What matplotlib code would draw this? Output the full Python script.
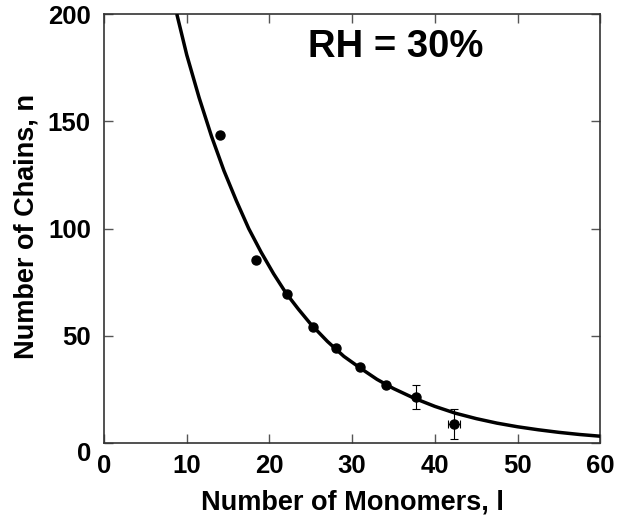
import numpy as np
import matplotlib
matplotlib.use("Agg")
import matplotlib.pyplot as plt
import matplotlib.transforms as mtransforms

plt.rcParams['font.family'] = ['Liberation Sans', 'DejaVu Sans']
plt.rcParams['font.weight'] = 'bold'

# Measured data (number of monomers l, number of chains n)
l_data = [14.0, 18.4, 22.1, 25.3, 28.1, 31.0, 34.1, 37.7, 42.3]
n_data = [143.5, 85.2, 69.5, 54.0, 44.6, 35.6, 27.0, 21.4, 9.0]
n_err = [0, 0, 0, 0, 0, 0, 0, 5.6, 6.8]
l_err = [0, 0, 0, 0, 0, 0, 0, 0, 0.7]

# Fitted curve
curve_l = [8.8, 10.0, 11.5, 13.0, 14.5, 16.0, 17.5, 19.0, 20.5, 22.0, 23.5, 25.0,
           27.0, 29.0, 31.0, 33.0, 35.0, 37.5, 40.0, 42.5, 45.0, 47.5, 50.0,
           52.5, 55.0, 57.5, 60.0]
curve_n = [200, 181, 161, 143, 127, 113, 100, 89, 79, 70, 62.5, 55.5,
           47.5, 40.5, 35.0, 29.8, 25.5, 21.0, 17.2, 14.0, 11.5, 9.4, 7.7,
           6.3, 5.1, 4.1, 3.3]

x_ticks = [0, 10, 20, 30, 40, 50, 60]
y_ticks = [0, 50, 100, 150, 200]

fig = plt.figure(figsize=(6.18, 5.16), dpi=100)
ax = fig.add_axes([104 / 618, 1 - 443.3 / 516, (600.3 - 104) / 618, (443.3 - 14) / 516])

ax.plot(curve_l, curve_n, color='black', lw=2.5, solid_capstyle='butt', zorder=3)

l_arr = np.array(l_data)
n_arr = np.array(n_data)
ne = np.array(n_err)
le = np.array(l_err)
mask = (ne > 0) | (le > 0)
ax.errorbar(l_arr[mask], n_arr[mask], yerr=ne[mask], xerr=le[mask], fmt='none',
            ecolor='black', elinewidth=0.8, capsize=2.6, capthick=0.8, zorder=4)
ax.plot(l_arr, n_arr, 'o', color='black', ms=6.5, zorder=5)

ax.set_xlim(0, 60)
ax.set_ylim(0, 200)
ax.set_xticks(x_ticks)
ax.set_yticks(y_ticks)
ax.set_xticklabels([str(v) for v in x_ticks])
ax.set_yticklabels([str(v) for v in y_ticks])

for sp in ax.spines.values():
    sp.set_color('#333333')
    sp.set_linewidth(1.2)

ax.tick_params(axis='both', which='major', direction='in', length=6.5, width=1.0,
               color='#555555', labelsize=18.5, top=True, right=True)
ax.tick_params(axis='x', pad=7.5)
ax.tick_params(axis='y', pad=9.5)
for lab in ax.get_xticklabels() + ax.get_yticklabels():
    lab.set_fontweight('bold')

# shift the y "0" label downward as in the reference
ylabs = ax.get_yticklabels()
offset = mtransforms.ScaledTranslation(0, -8 / 100, fig.dpi_scale_trans)
ylabs[0].set_transform(ylabs[0].get_transform() + offset)

ax.set_xlabel('Number of Monomers, l', fontsize=19.5, fontweight='bold')
ax.xaxis.label.set_va('baseline')
ax.xaxis.set_label_coords(0.5, (443.3 - 509.5) / 429.3)

ax.set_ylabel('Number of Chains, n', fontsize=19.5, fontweight='bold')
ax.yaxis.label.set_rotation_mode('anchor')
ax.yaxis.label.set_va('baseline')
ax.yaxis.label.set_ha('center')
ax.yaxis.set_label_coords((33.3 - 104) / 496.3, (443.3 - 226.7) / 429.3)

ax.text(35.3, 179.8, 'RH = 30%', fontsize=27.5, fontweight='bold',
        ha='center', va='baseline')

fig.savefig('out.png', dpi=100)
